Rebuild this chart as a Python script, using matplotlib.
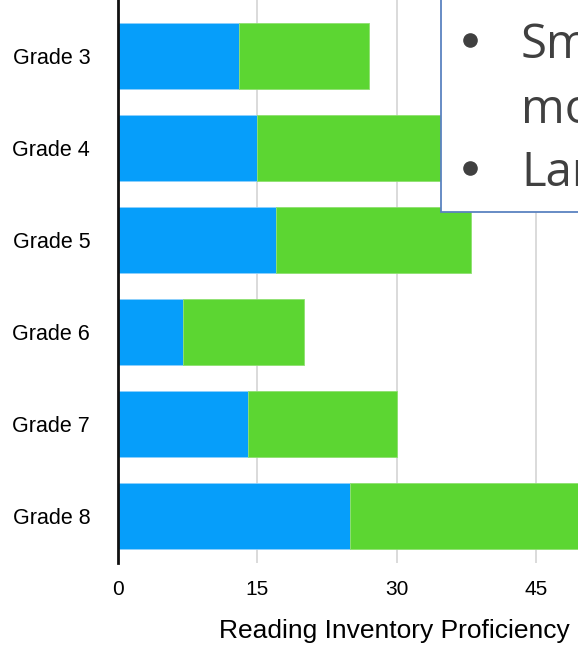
import matplotlib
matplotlib.use('Agg')
import matplotlib.pyplot as plt
from matplotlib.patches import Rectangle
from matplotlib.lines import Line2D

grades = ['Grade 3', 'Grade 4', 'Grade 5', 'Grade 6', 'Grade 7', 'Grade 8']
blue_vals = [13, 15, 17, 7, 14, 25]
green_vals = [14, 21, 21, 13, 16, 30]
ticks = [0, 15, 30, 45]

blue = '#069efa'
green = '#5cd632'

plt.rcParams['font.family'] = ['Liberation Sans', 'DejaVu Sans']

fig = plt.figure(figsize=(5.78, 6.45), dpi=100)
ax = fig.add_axes([118 / 578, 82 / 645, 460 / 578, 563 / 645])

ypos = list(range(len(grades)))
ax.barh(ypos, blue_vals, height=0.72, color=blue, edgecolor='#8fd0fb', linewidth=0.6, zorder=2)
ax.barh(ypos, green_vals, left=blue_vals, height=0.72, color=green,
        edgecolor='#8fe070', linewidth=0.6, zorder=2)

ax.set_xlim(0, 49.5)
ax.set_ylim(5.51, -0.61)
ax.set_xticks(ticks)
ax.set_xticklabels([str(t) for t in ticks], fontsize=15)
ax.set_yticks(ypos)
ax.set_yticklabels(grades, fontsize=15.5)
ax.tick_params(axis='x', length=0, pad=12)
ax.tick_params(axis='y', length=0, pad=20)
ax.xaxis.grid(True, color='#d4d4d4', linewidth=1.2, zorder=0)
ax.set_axisbelow(True)
for s in ['top', 'right', 'bottom']:
    ax.spines[s].set_visible(False)
ax.spines['left'].set_linewidth(2)
ax.spines['left'].set_color('#111111')
ax.spines['left'].set_zorder(3)

ax.set_xlabel('Reading Inventory Proficiency', fontsize=19, ha='left', va='baseline')
ax.xaxis.set_label_coords((219 - 118) / 460, (7 - 82) / 563)

# text box overlay in the upper right
box = Rectangle((441 / 578, 1 - 212 / 645), 0.3, 0.5, transform=fig.transFigure,
                facecolor='white', edgecolor='#5b82c0', linewidth=1.3, zorder=5)
fig.patches.append(box)
tc = '#404040'
lines = [(58, True, 'Smaller'), (123, False, 'more'), (186, True, 'Larger')]
for ybase, bullet, word in lines:
    if bullet:
        dot = Line2D([470 / 578], [1 - (ybase - 18) / 645], transform=fig.transFigure,
                     marker='o', markersize=9.5, color=tc, linestyle='none', zorder=6)
        fig.add_artist(dot)
    fig.text(521 / 578, 1 - ybase / 645, word, fontsize=34, color=tc, va='baseline',
             family='Open Sans', zorder=6)

fig.savefig('out.png', dpi=100)
